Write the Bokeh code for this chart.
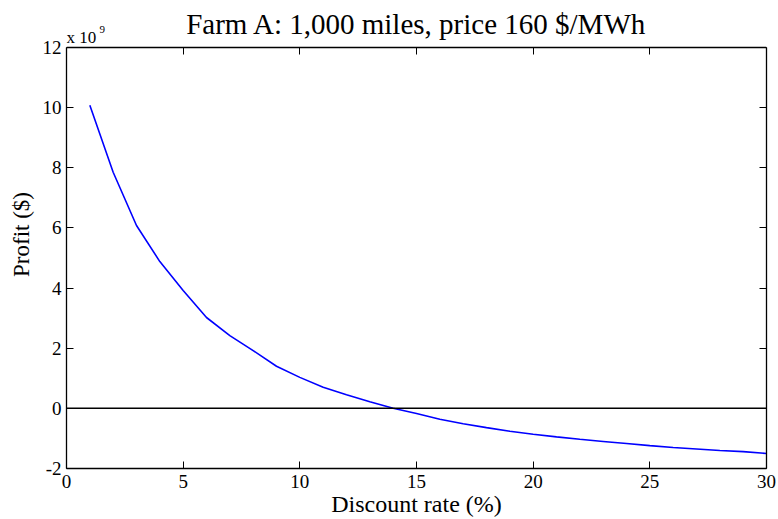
import math
from bokeh.plotting import figure
from bokeh.models import Range1d, LinearAxis, FixedTicker, Span, Label
from bokeh.embed import file_html
from bokeh.resources import INLINE

# ---- data ----
discount_rate = [1, 2, 3, 4, 5, 6, 7, 8, 9, 10, 11, 12, 13, 14, 15,
                 16, 17, 18, 19, 20, 21, 22, 23, 24, 25, 26, 27, 28, 29, 30]
profit = [10.08e9, 7.85e9, 6.08e9, 4.88e9, 3.92e9, 3.02e9, 2.42e9, 1.92e9,
          1.40e9, 1.03e9, 0.70e9, 0.45e9, 0.22e9, 0.00e9, -0.17e9,
          -0.36e9, -0.51e9, -0.64e9, -0.76e9, -0.86e9, -0.95e9, -1.03e9,
          -1.10e9, -1.17e9, -1.24e9, -1.30e9, -1.35e9, -1.40e9, -1.44e9, -1.50e9]
x_ticks = [0, 5, 10, 15, 20, 25, 30]
y_ticks = [-2, 0, 2, 4, 6, 8, 10, 12]
scale = 1e9
title_text = "Farm A: 1,000 miles, price 160 $/MWh"
x_label = "Discount rate (%)"
y_label = "Profit ($)"
exp_base = "x 10"
exp_power = "9"

FONT = "Times New Roman, Liberation Serif, serif"

X0, X1 = x_ticks[0], x_ticks[-1]
Y0, Y1 = y_ticks[0], y_ticks[-1]
# the frame reaches the top of the canvas so that the title lives inside it;
# the axes box (Y0..Y1) starts 47 px below the top and ends 469 px from the top
box_top_px, box_bottom_px = 47, 469
px_per_unit = (box_bottom_px - box_top_px) / (Y1 - Y0)
y_end = Y1 + box_top_px / px_per_unit

p = figure(width=778, height=519, output_backend="svg", toolbar_location=None,
           x_range=Range1d(X0, X1), y_range=Range1d(Y0, y_end),
           x_axis_location=None, y_axis_location=None, title_location=None,
           min_border_left=66, min_border_right=12,
           min_border_top=0, min_border_bottom=50)
p.background_fill_color = "white"
p.border_fill_color = "white"
p.xgrid.visible = False
p.ygrid.visible = False
p.outline_line_color = None


def make_axis(ticks, show_labels, standoff, bounds, tick_in=7, tick_out=0):
    ax = LinearAxis(ticker=FixedTicker(ticks=ticks), bounds=bounds)
    ax.axis_line_color = "black"
    ax.axis_line_width = 1.3
    ax.major_tick_line_color = "black"
    ax.major_tick_line_width = 1.0
    ax.major_tick_in = tick_in
    ax.major_tick_out = tick_out
    ax.minor_tick_line_color = None
    ax.major_label_text_font = FONT
    ax.major_label_text_color = "black"
    ax.major_label_standoff = standoff
    ax.axis_label_text_font = FONT
    ax.axis_label_text_font_style = "normal"
    ax.axis_label_text_color = "black"
    if show_labels:
        ax.major_label_text_font_size = "19px"
        ax.major_label_overrides = {t: str(t) for t in ticks}
    else:
        ax.major_label_overrides = {t: "" for t in ticks}
        ax.major_label_text_font_size = "0px"
    return ax


xb = make_axis(x_ticks, True, 6, (X0, X1))
xb.axis_label = x_label
xb.axis_label_text_font_size = "24px"
xb.axis_label_standoff = 0
yl = make_axis(y_ticks, True, 5, (Y0, Y1))
yl.axis_label = y_label
yl.axis_label_text_font_size = "23px"
yl.axis_label_standoff = 6
p.add_layout(xb, "below")
p.add_layout(yl, "left")
p.add_layout(make_axis(y_ticks, False, 0, (Y0, Y1)), "right")
# top edge of the axes box with inward ticks
xt = make_axis(x_ticks, False, 0, (X0, X1), tick_in=0, tick_out=7)
xt.fixed_location = Y1
p.add_layout(xt, "below")

p.add_layout(Span(location=0, dimension="width", line_color="black", line_width=1.5))

p.line(discount_rate, [v / scale for v in profit], line_color="#0000ff", line_width=1.6)

# title
p.add_layout(Label(x=(X0 + X1) / 2, y=Y1, y_offset=23, text=title_text,
                   text_align="center", text_baseline="alphabetic", text_font=FONT,
                   text_font_size="29px", text_color="black"))
# exponent marker above the y axis
p.add_layout(Label(x=X0, y=Y1, y_offset=10, text=exp_base,
                   text_align="left", text_baseline="alphabetic", text_font=FONT,
                   text_font_size="17px", text_color="black"))
p.add_layout(Label(x=X0, y=Y1, x_offset=33, y_offset=18, text=exp_power,
                   text_align="left", text_baseline="alphabetic", text_font=FONT,
                   text_font_size="11px", text_color="black"))

open("out.html", "w").write(file_html(p, INLINE))
